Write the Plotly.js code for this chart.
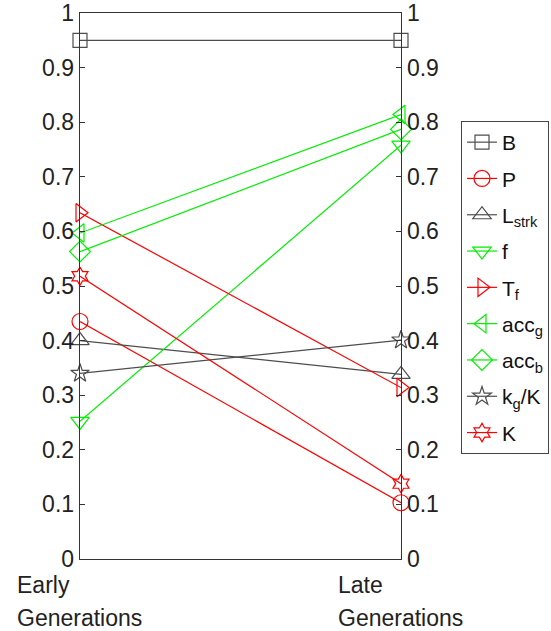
<!DOCTYPE html>
<html>
<head>
<meta charset="utf-8">
<script src="https://cdn.plot.ly/plotly-3.0.1.min.js"></script>
<style>html,body{margin:0;padding:0;background:#fff;}#chart{width:551px;height:631px;}</style>
</head>
<body>
<div id="chart"></div>
<script>
const categories = ['Early', 'Late'];
const tickLine1 = ['Early', 'Late'];
const tickLine2 = ['Generations', 'Generations'];
const seriesNames = ['B', 'P', 'L<sub>strk</sub>', 'f', 'T<sub>f</sub>', 'acc<sub>g</sub>', 'acc<sub>b</sub>', 'k<sub>g</sub>/K', 'K'];
const B = [0.95, 0.95];
const P = [0.435, 0.103];
const Lstrk = [0.40, 0.338];
const f = [0.252, 0.758];
const Tf = [0.634, 0.314];
const accg = [0.597, 0.814];
const accb = [0.563, 0.787];
const kgK = [0.340, 0.401];
const K = [0.518, 0.138];
const yTicks = [0, 0.1, 0.2, 0.3, 0.4, 0.5, 0.6, 0.7, 0.8, 0.9, 1];

const seriesValues = [B, P, Lstrk, f, Tf, accg, accb, kgK, K];
const seriesColors = ['#4d4d4d', '#ff0000', '#4d4d4d', '#00ee00', '#ff0000', '#00ee00', '#00ee00', '#4d4d4d', '#ff0000'];
const seriesSymbols = ['square-open', 'circle-open', 'triangle-up-open', 'triangle-down-open', 'triangle-right-open', 'triangle-left-open', 'diamond-open', 'star-open', 'hexagram-open'];
const markerSizes = [14, 16, 16, 16, 16, 16, 16, 14, 14];

const traces = seriesValues.map((vals, i) => ({
  x: categories,
  y: vals,
  name: seriesNames[i],
  type: 'scatter',
  mode: 'lines+markers',
  legendgroup: 'g' + i,
  line: {color: seriesColors[i], width: 1.2},
  marker: {symbol: seriesSymbols[i], size: markerSizes[i], color: seriesColors[i], line: {color: seriesColors[i], width: 1.2}},
  cliponaxis: false
}));
traces.push({x: categories, y: B, yaxis: 'y2', mode: 'none', showlegend: false, hoverinfo: 'skip'});

const font = {family: 'Liberation Sans, Arial, sans-serif', size: 23, color: '#222'};
const legendFont = {family: 'Liberation Sans, Arial, sans-serif', size: 21, color: '#111'};
const annotations = [];
categories.forEach((c, i) => {
  annotations.push({x: c, xref: 'x', y: 0, yref: 'paper', yshift: -11, xshift: -65, xanchor: 'left', yanchor: 'top', text: tickLine1[i], showarrow: false, font: font});
  annotations.push({x: c, xref: 'x', y: 0, yref: 'paper', yshift: -44, xshift: -65, xanchor: 'left', yanchor: 'top', text: tickLine2[i], showarrow: false, font: font});
});

const yaxisCommon = {
  range: [0, 1], tickvals: yTicks, ticktext: yTicks.map(v => String(v)),
  ticks: 'inside', ticklen: 5, tickcolor: '#333', tickwidth: 1,
  showgrid: false, zeroline: false, showline: true, linecolor: '#333', linewidth: 1.3,
  tickfont: font, fixedrange: true, automargin: false
};

const layout = {
  width: 551, height: 631,
  margin: {l: 80, r: 150, t: 13, b: 72},
  paper_bgcolor: '#fff', plot_bgcolor: '#fff',
  showlegend: true,
  xaxis: {type: 'category', range: [0, 1], showticklabels: false, ticks: '', showgrid: false, zeroline: false, showline: true, mirror: true, linecolor: '#333', linewidth: 1.3, fixedrange: true, automargin: false},
  yaxis: Object.assign({}, yaxisCommon, {side: 'left'}),
  yaxis2: Object.assign({}, yaxisCommon, {side: 'right', overlaying: 'y'}),
  legend: {xref: 'container', yref: 'container', x: 549 / 551, xanchor: 'right', y: 1 - 121 / 631, yanchor: 'top', bgcolor: '#fff', bordercolor: '#444', borderwidth: 1, font: legendFont, tracegroupgap: 6, itemwidth: 30, maxheight: 450},
  annotations: annotations
};

Plotly.newPlot('chart', traces, layout, {staticPlot: true, displayModeBar: false});
</script>
</body>
</html>
